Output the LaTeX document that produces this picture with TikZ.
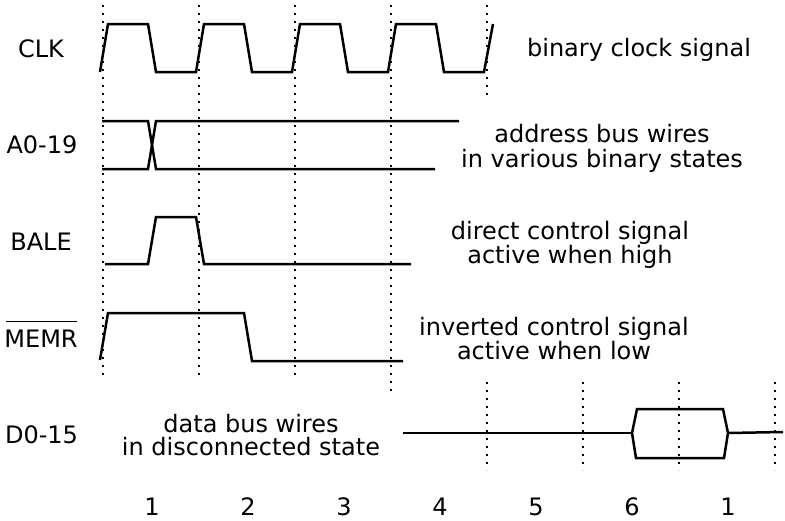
\documentclass[tikz,border=0pt]{standalone}
\usepackage{fontspec}
\setmainfont{DejaVu Sans}
\begin{document}
\begin{tikzpicture}[x=1pt, y=-1pt,
  wave/.style={line width=2.5pt, line join=miter},
  tick/.style={line width=1.8pt, dash pattern=on 1.8pt off 6.2pt},
  lbl/.style={inner sep=0pt, anchor=base, font=\fontsize{24}{25}\selectfont}]
\useasboundingbox (0,0) rectangle (785,520);

% clock-cycle markers
\foreach \x in {103,199,295} \draw[tick] (\x,5) -- (\x,377);
\draw[tick] (391,5) -- (391,393);
\draw[tick] (487,5) -- (487,96);
\foreach \x in {487,583,679,775} \draw[tick] (\x,382) -- (\x,470);

% signal names
\node[lbl] (clk)  at (41,57)   {CLK};
\node[lbl] (addr) at (42,153)  {A0-19};
\node[lbl] (bale) at (41,250)  {BALE};
\node[lbl] (memr) at (41,347)  {MEMR};
\node[lbl] (data) at (41.5,443) {D0-15};
\draw[line width=1.5pt] ([xshift=2pt,yshift=8pt]memr.north west) -- ([xshift=-1pt,yshift=8pt]memr.north east);

% CLK
\draw[wave] (100,72) -- (108,24) -- (148,24) -- (156,72) -- (196,72)
  -- (204,24) -- (244,24) -- (252,72) -- (292,72)
  -- (300,24) -- (340,24) -- (348,72) -- (388,72)
  -- (396,24) -- (436,24) -- (444,72) -- (484,72) -- (493,24);

% A0-19
\draw[wave] (102,121) -- (148,121) -- (156,169) -- (435,169);
\draw[wave] (102,169) -- (148,169) -- (156,121) -- (459,121);

% BALE
\draw[wave] (105,264) -- (148,264) -- (156,217) -- (196,217) -- (204,264) -- (411,264);

% MEMR (active low)
\draw[wave] (100,360) -- (108,313) -- (244,313) -- (252,361) -- (403,361);

% D0-15
\draw[wave] (403,433) -- (632,433);
\draw[wave] (632,433) -- (637,409) -- (723,409) -- (728,433) -- (724,458) -- (636,458) -- cycle;
\draw[wave] (728,433) -- (783,432);

% descriptions
\node[lbl] (clkdesc)   at (639,56)  {binary clock signal};
\node[lbl] (addrdesc1) at (602,142) {address bus wires};
\node[lbl] (addrdesc2) at (602,167) {in various binary states};
\node[lbl] (baledesc1) at (570,239) {direct control signal};
\node[lbl] (baledesc2) at (570,263) {active when high};
\node[lbl] (memrdesc1) at (554,335) {inverted control signal};
\node[lbl] (memrdesc2) at (554,359) {active when low};
\node[lbl] (datadesc1) at (251,432) {data bus wires};
\node[lbl] (datadesc2) at (251,455) {in disconnected state};

% cycle numbers
\foreach \t [count=\i] in {1,2,3,4,5,6,1}
  \node[lbl] (n\i) at ({152+96*(\i-1)},515) {\t};
\end{tikzpicture}
\end{document}
